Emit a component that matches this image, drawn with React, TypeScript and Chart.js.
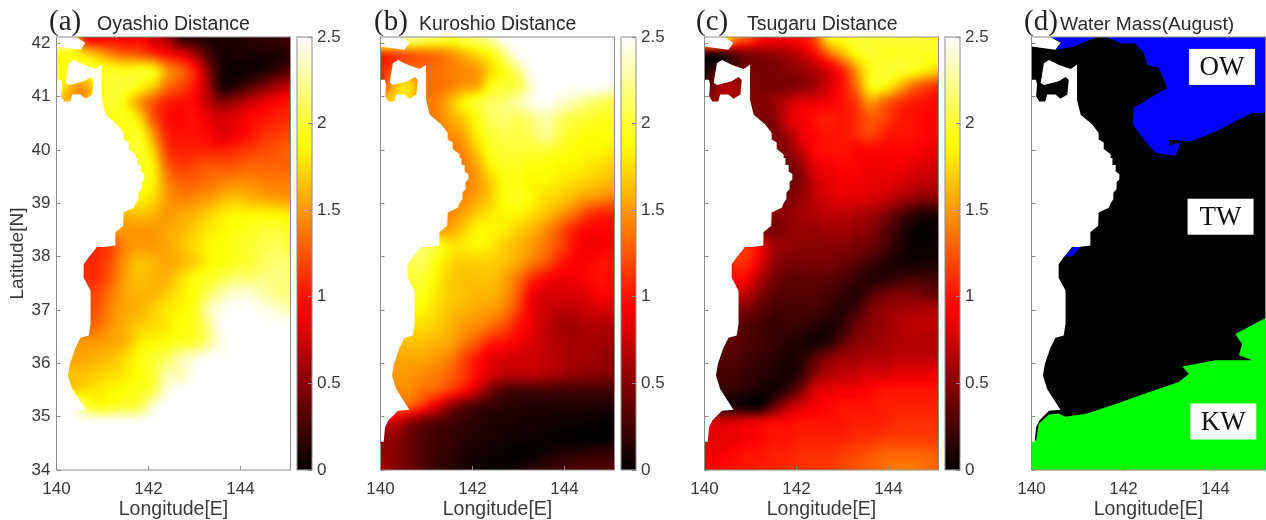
import React, { useEffect, useRef } from "react";
import { Chart, registerables } from "chart.js";

Chart.register(...registerables);

const lons = [140, 140.3, 140.6, 140.9, 141.2, 141.5, 141.8, 142.1, 142.4, 142.7, 143, 143.3, 143.6, 143.9, 144.2, 144.5, 144.8, 145.1];
const lats = [42.1, 41.8, 41.5, 41.2, 40.9, 40.6, 40.3, 40, 39.7, 39.4, 39.1, 38.8, 38.5, 38.2, 37.9, 37.6, 37.3, 37, 36.7, 36.4, 36.1, 35.8, 35.5, 35.2, 34.9, 34.6, 34.3, 34];

const oyashio = [
  [2.5,2.5,1.0,0.9,0.95,0.9,0.95,0.75,0.6,0.2,0.15,0.1,0.1,0.1,0.15,0.2,0.2,0.25],
  [1.9,1.9,1.75,1.6,1.4,1.3,1.25,1.1,.95,.85,.6,.25,.1,.1,.1,.1,.1,.15],
  [1.95,2,2,2,1.95,1.9,1.95,1.9,1.5,1.3,1.05,.5,.1,.05,.05,.1,.2,.3],
  [2,1.6,1.5,1.9,2,2,1.9,1.7,1.35,1.2,1,.6,.1,.15,.3,.45,.6,.7],
  [1.6,1.6,1.5,1.9,2,1.85,1.5,1.25,1.05,1,.95,.7,.5,.6,.75,.85,.95,1],
  [1.9,1.9,1.9,1.9,1.9,1.95,1.75,1.25,1,.95,1,.85,.8,.85,.95,1,1.05,1.1],
  [1.9,1.9,1.9,1.9,1.9,1.9,1.95,1.5,1.05,1,1,.95,.8,.9,1,1.1,1.15,1.2],
  [1.95,1.95,1.95,1.95,1.95,1.95,2,1.7,1.15,1.05,1.05,1.05,1.05,1.1,1.15,1.2,1.25,1.3],
  [1.95,1.95,1.95,1.95,1.95,1.95,1.95,1.85,1.3,1.15,1.2,1.25,1.25,1.25,1.3,1.3,1.3,1.3],
  [1.9,1.9,1.9,1.9,1.9,1.9,1.9,1.85,1.45,1.3,1.3,1.35,1.4,1.45,1.45,1.4,1.4,1.4],
  [1.85,1.85,1.85,1.85,1.85,1.85,1.85,1.75,1.5,1.4,1.45,1.5,1.6,1.65,1.6,1.55,1.5,1.5],
  [1.6,1.6,1.6,1.6,1.6,1.6,1.65,1.6,1.5,1.55,1.6,1.7,1.8,1.85,1.85,1.85,1.85,1.8],
  [1.5,1.5,1.5,1.5,1.5,1.5,1.5,1.5,1.55,1.6,1.7,1.8,1.85,1.9,1.95,2,2,1.95],
  [1.1,1.1,1.1,1.1,1.2,1.45,1.5,1.5,1.55,1.65,1.75,1.85,1.9,1.95,2,2.05,2.1,2],
  [1.1,1.1,1.1,1.1,1.25,1.5,1.65,1.6,1.55,1.6,1.7,1.85,1.9,1.95,2,2.1,2.15,2.15],
  [1.1,1.1,1.1,1.1,1.3,1.55,1.65,1.6,1.6,1.75,1.9,1.95,2.05,2.15,2.15,2.2,2.2,2.15],
  [1.2,1.2,1.2,1.2,1.4,1.55,1.6,1.6,1.7,1.8,1.9,2.1,2.3,2.4,2.4,2.3,2.2,2.2],
  [1.25,1.25,1.25,1.25,1.45,1.55,1.6,1.7,1.8,1.85,1.95,2.3,2.45,2.5,2.5,2.45,2.4,2.3],
  [1.3,1.3,1.3,1.35,1.5,1.6,1.7,1.75,1.8,1.9,1.95,2.2,2.5,2.5,2.5,2.5,2.5,2.5],
  [1.5,1.5,1.5,1.5,1.55,1.6,1.8,1.85,1.9,1.95,2,2.2,2.45,2.5,2.5,2.5,2.5,2.5],
  [1.55,1.55,1.55,1.6,1.65,1.75,1.9,2,2.1,2.3,2.4,2.5,2.5,2.5,2.5,2.5,2.5,2.5],
  [1.65,1.65,1.65,1.7,1.75,1.8,1.9,2,2.3,2.3,2.5,2.5,2.5,2.5,2.5,2.5,2.5,2.5],
  [1.7,1.7,1.75,1.8,1.85,1.9,1.95,2.05,2.4,2.5,2.5,2.5,2.5,2.5,2.5,2.5,2.5,2.5],
  [2.5,2.5,2.1,1.9,1.95,2,2.05,2.4,2.5,2.5,2.5,2.5,2.5,2.5,2.5,2.5,2.5,2.5],
  [2.5,2.5,2.5,2.5,2.5,2.5,2.5,2.5,2.5,2.5,2.5,2.5,2.5,2.5,2.5,2.5,2.5,2.5],
  [2.5,2.5,2.5,2.5,2.5,2.5,2.5,2.5,2.5,2.5,2.5,2.5,2.5,2.5,2.5,2.5,2.5,2.5],
  [2.5,2.5,2.5,2.5,2.5,2.5,2.5,2.5,2.5,2.5,2.5,2.5,2.5,2.5,2.5,2.5,2.5,2.5],
  [2.5,2.5,2.5,2.5,2.5,2.5,2.5,2.5,2.5,2.5,2.5,2.5,2.5,2.5,2.5,2.5,2.5,2.5],
];

const kuroshio = [
  [2.5,2.5,2.3,2.2,2.1,2,2.1,2.15,2.3,2.5,2.5,2.5,2.5,2.5,2.5,2.5,2.5,2.5],
  [1.1,1.15,1.25,1.3,1.35,1.45,1.6,1.75,1.9,2.2,2.5,2.5,2.5,2.5,2.5,2.5,2.5,2.5],
  [1.05,1.3,1.4,1.35,1.35,1.4,1.45,1.5,1.75,1.95,2.2,2.5,2.5,2.5,2.5,2.5,2.5,2.5],
  [1.1,1.6,1.8,1.4,1.35,1.4,1.5,1.55,1.9,2,2.05,2.4,2.5,2.5,2.5,2.5,2.5,2.45],
  [1.7,1.7,1.7,1.45,1.4,1.6,1.85,2,2.1,2.15,2.3,2.45,2.5,2.4,2.3,2.2,2.1,2.05],
  [1.4,1.4,1.4,1.4,1.4,1.55,1.7,1.9,2.1,2.15,2.1,2.2,2.3,2.15,2.05,2,1.95,1.95],
  [1.45,1.45,1.45,1.45,1.45,1.45,1.55,1.85,2,2.05,2.05,2.1,2.25,2.05,1.95,1.9,1.9,1.9],
  [1.4,1.4,1.4,1.4,1.4,1.4,1.45,1.7,1.95,2,2,2,2,1.95,1.9,1.85,1.85,1.8],
  [1.4,1.4,1.4,1.4,1.4,1.4,1.4,1.55,1.85,1.95,1.95,1.9,1.9,1.85,1.85,1.8,1.75,1.7],
  [1.4,1.4,1.4,1.4,1.4,1.4,1.4,1.5,1.7,1.9,1.9,1.85,1.85,1.8,1.75,1.7,1.65,1.6],
  [1.45,1.45,1.45,1.45,1.45,1.45,1.45,1.55,1.7,1.9,1.95,1.85,1.75,1.7,1.6,1.5,1.45,1.4],
  [1.45,1.45,1.45,1.45,1.45,1.45,1.55,1.7,1.8,1.85,1.85,1.75,1.65,1.5,1.35,1.15,1.05,1.05],
  [1.5,1.5,1.5,1.5,1.5,1.55,1.7,1.85,1.85,1.8,1.7,1.6,1.45,1.25,1.05,.95,.95,.95],
  [2,2,2,2.1,2,1.8,1.8,1.85,1.8,1.7,1.6,1.5,1.35,1.2,1,.9,.9,.95],
  [2.05,2.05,2.05,2.1,1.9,1.75,1.7,1.7,1.7,1.65,1.55,1.4,1.25,1.05,.95,.95,1,1],
  [2,2,2,2,1.85,1.7,1.65,1.65,1.65,1.55,1.35,1.1,.95,.9,.9,.95,1,.95],
  [1.95,1.95,1.95,1.95,1.8,1.7,1.65,1.6,1.6,1.5,1.25,.9,.8,.8,.8,.85,.95,.9],
  [1.85,1.85,1.85,1.85,1.75,1.65,1.6,1.55,1.5,1.4,1.15,.85,.75,.7,.7,.75,.8,.75],
  [1.75,1.75,1.75,1.75,1.7,1.6,1.5,1.45,1.35,1.2,1,.85,.7,.6,.6,.65,.65,.6],
  [1.65,1.65,1.65,1.65,1.6,1.55,1.4,1.25,1.05,1,.9,.8,.7,.65,.6,.6,.6,.55],
  [1.55,1.55,1.55,1.55,1.5,1.4,1.2,1,.85,.8,.75,.75,.7,.65,.6,.6,.55,.5],
  [1.5,1.5,1.5,1.45,1.4,1.3,1.15,.95,.8,.7,.7,.7,.65,.6,.55,.5,.5,.45],
  [1.45,1.45,1.45,1.35,1.3,1.15,1,.75,.45,.3,.25,.25,.25,.25,.25,.25,.25,.25],
  [1.3,1.3,1.3,1.1,.85,.55,.35,.25,.2,.15,.15,.12,.12,.12,.12,.12,.12,.1],
  [.75,.75,.55,.4,.3,.25,.2,.15,.12,.1,.1,.08,.08,.06,.05,.04,.03,.03],
  [.5,.55,.4,.3,.25,.2,.15,.12,.1,.08,.06,.05,.03,.02,.01,0,0,.02],
  [.55,.5,.4,.3,.22,.18,.12,.08,.05,.03,.01,.03,.08,.12,.15,.18,.2,.2],
  [.6,.5,.4,.3,.2,.15,.1,.06,.03,.03,.1,.15,.2,.25,.28,.3,.3,.3],
];

const tsugaru = [
  [2.5,2.5,1.6,1.3,1.05,.95,.95,1,1.2,1.85,1.95,2,2,2,2,2,2,1.95],
  [.1,.1,.3,.45,.5,.55,.6,.75,.95,1.3,1.6,1.9,2,1.95,1.95,1.95,1.95,1.95],
  [.1,.3,.3,.45,.45,.45,.5,.55,.65,.8,1.05,1.5,1.9,2,2,1.95,1.85,1.7],
  [.15,.6,.65,.5,.45,.45,.45,.5,.6,.8,1,1.35,1.9,1.9,1.65,1.35,1.2,1.1],
  [.55,.55,.6,.5,.5,.55,.7,.85,.85,.9,1,1.15,1.5,1.3,1.15,1.05,1,.95],
  [.45,.45,.45,.45,.45,.5,.8,.9,1,1.05,1,1.1,1.25,1.2,1.05,1,.95,.95],
  [.45,.45,.45,.45,.45,.45,.6,.85,.95,1,1,1.1,1.2,1.05,1,1,.95,.95],
  [.5,.5,.5,.5,.5,.5,.5,.75,.95,1,1,.95,.95,.95,.95,.95,.9,.85],
  [.4,.4,.4,.4,.4,.4,.4,.55,.85,.9,.95,.95,.9,.9,.9,.85,.8,.75],
  [.4,.4,.4,.4,.4,.4,.4,.5,.75,.85,.9,.9,.85,.85,.8,.75,.7,.7],
  [.45,.45,.45,.45,.45,.45,.45,.55,.7,.8,.85,.85,.8,.75,.65,.55,.5,.5],
  [.5,.5,.5,.5,.5,.5,.55,.6,.65,.7,.7,.65,.6,.5,.35,.2,.12,.12],
  [.45,.45,.45,.45,.45,.45,.5,.55,.55,.6,.6,.55,.5,.35,.2,.05,.02,.05],
  [1.15,1.15,1.15,1.1,.9,.6,.55,.5,.5,.5,.5,.45,.4,.3,.15,.05,.03,.05],
  [1.1,1.1,1.1,1.1,.85,.55,.45,.45,.45,.45,.4,.35,.25,.15,.08,.06,.08,.08],
  [.95,.95,.95,.95,.65,.45,.35,.35,.35,.35,.3,.2,.12,.15,.2,.25,.25,.2],
  [.7,.7,.7,.7,.5,.35,.3,.3,.3,.25,.2,.12,.3,.4,.45,.45,.4,.35],
  [.45,.45,.45,.45,.35,.25,.25,.25,.25,.2,.12,.25,.45,.55,.6,.6,.65,.65],
  [.35,.35,.35,.3,.25,.2,.22,.2,.15,.1,.2,.4,.5,.55,.65,.7,.7,.7],
  [.35,.35,.35,.3,.25,.2,.15,.1,.06,.15,.35,.5,.55,.6,.65,.65,.65,.65],
  [.3,.3,.3,.25,.2,.15,.1,.15,.35,.5,.6,.6,.65,.65,.7,.7,.7,.7],
  [.25,.25,.25,.2,.15,.12,.08,.2,.5,.65,.7,.75,.8,.8,.85,.85,.85,.9],
  [.2,.2,.2,.15,.1,.08,.2,.45,.8,.85,.9,.9,.95,1,1,1,1,1],
  [.1,.1,.1,.05,.02,.35,.65,.8,.9,.95,1,1,1,1.05,1.05,1.05,1.05,1.05],
  [.8,.8,.8,.85,.9,.95,.95,1,1,1,1,1.05,1.05,1.05,1.1,1.1,1.1,1.1],
  [.8,.85,.85,.9,.95,1,1,1.05,1.05,1.05,1.05,1.1,1.1,1.15,1.15,1.15,1.15,1.15],
  [.85,.9,.95,1,1,1.05,1.05,1.1,1.1,1.1,1.15,1.2,1.25,1.3,1.3,1.3,1.3,1.25],
  [.9,.95,1,1,1.05,1.05,1.1,1.1,1.15,1.15,1.2,1.25,1.3,1.35,1.4,1.4,1.35,1.3],
];

const tipLon = [140, 140.41, 140.63, 140.52, 140];
const tipLat = [42.12, 42.12, 42.01, 41.88, 41.94];

const coastLon = [140, 140.1, 140.12, 140.1, 140.17, 140.3, 140.34, 140.52, 140.63, 140.78, 140.81, 140.74, 140.59, 140.27, 140.2, 140.27, 140.38, 140.59, 140.85, 140.99, 140.99, 141.07, 141.32, 141.46, 141.46, 141.57, 141.57, 141.72, 141.72, 141.76, 141.76, 141.83, 141.83, 141.91, 141.91, 141.85, 141.85, 141.78, 141.78, 141.72, 141.68, 141.46, 141.45, 141.28, 141.28, 141.03, 140.88, 140.7, 140.59, 140.59, 140.74, 140.74, 140.7, 140.52, 140.41, 140.29, 140.25, 140.34, 140.59, 140.63, 140.38, 140.17, 140.1, 140.07, 140, 140];
const coastLat = [41.32, 41.32, 41.22, 41.01, 40.91, 40.91, 41.04, 41.04, 40.96, 41.04, 41.32, 41.37, 41.29, 41.22, 41.26, 41.63, 41.69, 41.6, 41.52, 41.6, 40.94, 40.66, 40.48, 40.32, 40.2, 40.14, 40.02, 39.92, 39.85, 39.85, 39.72, 39.72, 39.6, 39.55, 39.45, 39.4, 39.27, 39.2, 39.08, 39, 38.92, 38.83, 38.58, 38.46, 38.21, 38.18, 38.18, 37.99, 37.86, 37.61, 37.36, 36.74, 36.52, 36.48, 36.29, 35.99, 35.77, 35.52, 35.18, 35.13, 35.11, 34.93, 34.8, 34.53, 34.53, 41.32];

const twLon = [140, 145.09, 145.09, 140];
const twLat = [34, 34, 42.12, 42.12];

const owTipLon = [140.41, 140.63, 140.54, 140.92, 141.37, 141.36];
const owTipLat = [42.12, 42.03, 41.88, 41.94, 42.1, 42.12];
const owSeaLon = [141.61, 141.97, 142.26, 142.44, 142.51, 142.77, 142.95, 142.7, 142.22, 142.2, 142.44, 142.7, 143.13, 143.24, 142.99, 142.99, 143.49, 144, 144.43, 144.8, 145.09, 145.09];
const owSeaLat = [42.12, 42, 42, 41.82, 41.6, 41.54, 41.16, 41.04, 40.79, 40.48, 40.2, 39.95, 39.89, 40.14, 40.09, 40.19, 40.17, 40.35, 40.54, 40.7, 40.7, 42.12];
const owSadoLon = [140.7, 140.92, 141.07, 140.88];
const owSadoLat = [38.01, 38.18, 38.18, 38.01];
const kwLon = [140, 140.1, 140.16, 140.38, 140.59, 140.74, 141.21, 141.83, 142.55, 143.2, 143.42, 143.28, 144, 144.8, 144.51, 144.58, 144.43, 144.91, 145.09, 145.09, 140];
const kwLat = [34.53, 34.56, 34.87, 35.04, 35.06, 35, 35.06, 35.24, 35.46, 35.65, 35.8, 35.94, 36.06, 36.06, 36.15, 36.36, 36.55, 36.77, 36.85, 34, 34];

const lonTicks = [140, 142, 144];
const latTicks = [34, 35, 36, 37, 38, 39, 40, 41, 42];
const barTicks = [0, 0.5, 1, 1.5, 2, 2.5];

const massNames = ["OW", "TW", "KW"];
const massLon = [144.14, 144.11, 144.17];
const massLat = [41.56, 38.75, 34.91];

const W = 1266;
const H = 520;
const TOP = 37;
const BOTTOM = 470;
const SANS = '"Liberation Sans", Arial, sans-serif';
const SERIF = '"Liberation Serif", "Times New Roman", serif';
const INK = "#3a3a3a";
const FRAME = "#8c8c8c";

const zip = (xs: number[], ys: number[]) => xs.map((x, i) => ({ x, y: ys[i] }));

function hot(v: number): [number, number, number] {
  const t = Math.max(0, Math.min(1, v / 2.5));
  return [
    Math.min(1, t / 0.375) * 255,
    Math.max(0, Math.min(1, (t - 0.375) / 0.375)) * 255,
    Math.max(0, (t - 0.75) / 0.25) * 255,
  ];
}

function cubic(a: number, b: number, c: number, d: number, s: number) {
  return b + 0.5 * s * (c - a + s * (2 * a - 5 * b + 4 * c - d + s * (3 * (b - c) + d - a)));
}

function sample(grid: number[][], lon: number, lat: number) {
  const nx = lons.length;
  const ny = lats.length;
  const fx = Math.max(0, Math.min(nx - 1.001, (lon - lons[0]) / (lons[1] - lons[0])));
  const fy = Math.max(0, Math.min(ny - 1.001, (lats[0] - lat) / (lats[0] - lats[1])));
  const ix = Math.floor(fx);
  const iy = Math.floor(fy);
  const row = (r: number) => {
    const g = grid[Math.max(0, Math.min(ny - 1, r))];
    return cubic(g[Math.max(0, ix - 1)], g[ix], g[ix + 1], g[Math.min(nx - 1, ix + 2)], fx - ix);
  };
  return cubic(row(iy - 1), row(iy), row(iy + 1), row(iy + 2), fy - iy);
}

const mapPlugin = {
  id: "mapLayers",
  beforeDatasetsDraw(chart: any) {
    const opts = chart.options.plugins.mapLayers;
    const { ctx, chartArea: a, scales } = chart;
    ctx.save();
    ctx.beginPath();
    ctx.rect(a.left, a.top, a.right - a.left, a.bottom - a.top);
    ctx.clip();
    if (opts.grid) {
      const m = 14;
      const w = Math.ceil(a.right - a.left) + 2 * m;
      const h = Math.ceil(a.bottom - a.top) + 2 * m;
      const off = document.createElement("canvas");
      off.width = w;
      off.height = h;
      const oc = off.getContext("2d")!;
      const img = oc.createImageData(w, h);
      for (let j = 0; j < h; j++) {
        const lat = scales.y.getValueForPixel(a.top - m + j + 0.5);
        for (let i = 0; i < w; i++) {
          const lon = scales.x.getValueForPixel(a.left - m + i + 0.5);
          const [r, g, b] = hot(sample(opts.grid, lon, lat));
          const k = (j * w + i) * 4;
          img.data[k] = r;
          img.data[k + 1] = g;
          img.data[k + 2] = b;
          img.data[k + 3] = 255;
        }
      }
      oc.putImageData(img, 0, 0);
      ctx.filter = "blur(3px)";
      ctx.drawImage(off, a.left - m, a.top - m);
      ctx.filter = "none";
    }
    chart.data.datasets.forEach((ds: any, i: number) => {
      const pts = chart.getDatasetMeta(i).data;
      ctx.beginPath();
      pts.forEach((p: any, k: number) => (k ? ctx.lineTo(p.x, p.y) : ctx.moveTo(p.x, p.y)));
      ctx.closePath();
      ctx.fillStyle = ds.backgroundColor;
      ctx.fill();
    });
    ctx.restore();
  },
  afterDraw(chart: any) {
    const opts = chart.options.plugins.mapLayers;
    const { ctx, chartArea: a, scales } = chart;
    if (opts.labels) {
      massNames.forEach((name, i) => {
        const cx = scales.x.getPixelForValue(massLon[i]);
        const cy = scales.y.getPixelForValue(massLat[i]);
        ctx.fillStyle = "#ffffff";
        ctx.fillRect(cx - 33, cy - 18, 66, 36);
        ctx.fillStyle = "#111111";
        ctx.font = `27px ${SERIF}`;
        ctx.textAlign = "center";
        ctx.textBaseline = "middle";
        ctx.fillText(name, cx, cy + 1);
      });
    }
    ctx.strokeStyle = FRAME;
    ctx.lineWidth = 1;
    ctx.strokeRect(a.left, a.top, a.right - a.left, a.bottom - a.top);
    ctx.textBaseline = "alphabetic";
    ctx.textAlign = "left";
    ctx.fillStyle = "#222222";
    ctx.font = `29px ${SERIF}`;
    ctx.fillText(opts.letter, opts.letterX, 30);
    ctx.fillStyle = "#2a2a2a";
    ctx.font = `${opts.titleSize}px ${SANS}`;
    ctx.fillText(opts.title, opts.titleX, 30);
  },
};

const barFrame = {
  id: "barFrame",
  afterDraw(chart: any) {
    const { ctx, chartArea: a } = chart;
    ctx.strokeStyle = FRAME;
    ctx.lineWidth = 1;
    ctx.strokeRect(a.left, a.top, a.right - a.left, a.bottom - a.top);
  },
};

type Panel = {
  left: number;
  barLeft: number | null;
  letter: string;
  letterX: number;
  title: string;
  titleX: number;
  titleSize: number;
  grid: number[][] | null;
  latLabels: boolean;
};

const panels: Panel[] = [
  { left: 56.5, barLeft: 297, letter: "(a)", letterX: 49, title: "Oyashio Distance", titleX: 97, titleSize: 19.5, grid: oyashio, latLabels: true },
  { left: 380.5, barLeft: 621, letter: "(b)", letterX: 374, title: "Kuroshio Distance", titleX: 419, titleSize: 19.4, grid: kuroshio, latLabels: false },
  { left: 704.5, barLeft: 945, letter: "(c)", letterX: 696, title: "Tsugaru Distance", titleX: 747, titleSize: 19.5, grid: tsugaru, latLabels: false },
  { left: 1031.5, barLeft: null, letter: "(d)", letterX: 1024, title: "Water Mass(August)", titleX: 1060, titleSize: 19.2, grid: null, latLabels: false },
];

function mapConfig(p: Panel): any {
  const land = [
    { label: "land", data: zip(coastLon, coastLat), backgroundColor: "#ffffff" },
    { label: "land tip", data: zip(tipLon, tipLat), backgroundColor: "#ffffff" },
  ];
  const masses = p.grid
    ? []
    : [
        { label: "TW", data: zip(twLon, twLat), backgroundColor: "#000000" },
        { label: "OW", data: zip(owTipLon, owTipLat), backgroundColor: "#0000ff" },
        { label: "OW", data: zip(owSeaLon, owSeaLat), backgroundColor: "#0000ff" },
        { label: "OW", data: zip(owSadoLon, owSadoLat), backgroundColor: "#0000ff" },
        { label: "KW", data: zip(kwLon, kwLat), backgroundColor: "#00ff00" },
      ];
  return {
    type: "scatter",
    data: { datasets: [...masses, ...land] },
    plugins: [mapPlugin],
    options: {
      animation: false,
      responsive: false,
      events: [],
      elements: { point: { radius: 0 } },
      layout: { padding: { left: p.left - 56.5, right: W - (p.left + 234), top: TOP, bottom: 0 } },
      plugins: {
        legend: { display: false },
        tooltip: { enabled: false },
        mapLayers: {
          grid: p.grid,
          labels: !p.grid,
          letter: p.letter,
          letterX: p.letterX,
          title: p.title,
          titleX: p.titleX,
          titleSize: p.titleSize,
        },
      },
      scales: {
        x: {
          type: "linear",
          min: 140,
          max: 145.087,
          afterBuildTicks: (s: any) => {
            s.ticks = lonTicks.map((value) => ({ value }));
          },
          afterFit: (s: any) => {
            s.height = H - BOTTOM;
          },
          grid: { drawOnChartArea: false, tickLength: -4, z: 1, color: FRAME },
          border: { display: false },
          ticks: { color: INK, font: { family: SANS, size: 17 }, padding: 13, maxRotation: 0, autoSkip: false, callback: (v: number) => String(v) },
          title: { display: true, text: "Longitude[E]", color: INK, font: { family: SANS, size: 19.5 }, padding: { top: 0, bottom: -1 } },
        },
        y: {
          type: "linear",
          min: 34,
          max: 42.12,
          afterBuildTicks: (s: any) => {
            s.ticks = latTicks.map((value) => ({ value }));
          },
          afterFit: (s: any) => {
            s.width = 56.5;
          },
          grid: { drawOnChartArea: false, tickLength: -4, z: 1, color: FRAME },
          border: { display: false },
          ticks: {
            color: INK,
            font: { family: SANS, size: 17 },
            padding: 10,
            autoSkip: false,
            callback: (v: number) => (p.latLabels ? String(v) : ""),
          },
          title: { display: p.latLabels, text: "Latitude[N]", color: INK, font: { family: SANS, size: 19 }, padding: { top: 6, bottom: 0 } },
        },
      },
    },
  };
}

function barConfig(left: number): any {
  return {
    type: "bar",
    data: {
      labels: ["scale"],
      datasets: [
        {
          data: [[barTicks[0], barTicks[barTicks.length - 1]]],
          barPercentage: 1,
          categoryPercentage: 1,
          backgroundColor: (c: any) => {
            const { chartArea: a, ctx } = c.chart;
            if (!a) return "#000000";
            const g = ctx.createLinearGradient(0, a.bottom, 0, a.top);
            g.addColorStop(0, "#000000");
            g.addColorStop(0.375, "#ff0000");
            g.addColorStop(0.75, "#ffff00");
            g.addColorStop(1, "#ffffff");
            return g;
          },
        },
      ],
    },
    plugins: [barFrame],
    options: {
      animation: false,
      responsive: false,
      events: [],
      layout: { padding: { left, right: W - (left + 15) - 44, top: TOP, bottom: H - BOTTOM } },
      plugins: { legend: { display: false }, tooltip: { enabled: false } },
      scales: {
        x: { display: false },
        y: {
          position: "right",
          min: 0,
          max: 2.5,
          afterBuildTicks: (s: any) => {
            s.ticks = barTicks.map((value) => ({ value }));
          },
          afterFit: (s: any) => {
            s.width = 44;
          },
          grid: { drawOnChartArea: false, tickLength: -4, z: 1, color: FRAME },
          border: { display: false },
          ticks: { color: INK, font: { family: SANS, size: 17 }, padding: 9, autoSkip: false, callback: (v: number) => String(v) },
        },
      },
    },
  };
}

const layerStyle: React.CSSProperties = {
  position: "absolute",
  left: 0,
  top: 0,
  width: W,
  height: H,
  filter: "blur(0.6px)",
};

export default function App() {
  const refs = useRef<(HTMLCanvasElement | null)[]>([]);
  const bars = panels.filter((p) => p.barLeft !== null);
  useEffect(() => {
    const charts: Chart[] = [];
    panels.forEach((p, i) => {
      charts.push(new Chart(refs.current[i]!, mapConfig(p)));
    });
    bars.forEach((p, i) => {
      charts.push(new Chart(refs.current[panels.length + i]!, barConfig(p.barLeft as number)));
    });
    return () => charts.forEach((c) => c.destroy());
  }, []);
  return (
    <div style={{ position: "fixed", left: 0, top: 0, width: W, height: H, background: "#ffffff", overflow: "hidden" }}>
      {[...panels, ...bars].map((_, i) => (
        <canvas key={i} ref={(el) => { refs.current[i] = el; }} width={W} height={H} style={layerStyle} />
      ))}
    </div>
  );
}
